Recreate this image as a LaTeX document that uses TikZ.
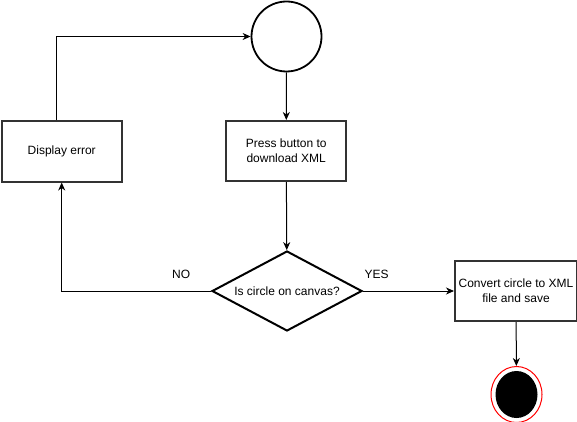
\documentclass[tikz,border=0pt]{standalone}
\usepackage{fontspec}
\setmainfont{Liberation Sans}
\usepackage{tikz}
\usetikzlibrary{arrows.meta,shapes.geometric}

\tikzset{
	box/.style={rectangle, draw=black!80, line width=2pt, minimum width=120pt, minimum height=60pt, align=center, font=\fontsize{12}{15}\selectfont},
	link/.style={-{Stealth[length=8pt, width=7pt, inset=2.5pt]}, line width=1pt},
	choice/.style={diamond, draw, line width=2pt, aspect=1.875, inner sep=0pt, minimum width=150pt, minimum height=80pt, font=\fontsize{12}{15}\selectfont},
	tag/.style={font=\fontsize{12}{15}\selectfont, above=9pt}
}

\begin{document}
\begin{tikzpicture}[x=1pt, y=-1pt]
		\useasboundingbox (0,0) rectangle (577,422);

		% nodes
		\node[circle, draw, line width=1.8pt, minimum size=70pt, inner sep=0pt] (start) at (286.5,36.5) {};
		\node[box] (press) at (286.2,151) {Press button to\\download XML};
		\node[box] (error) at (61.7,151.5) {Display error};
		\node[choice] (check) at (287,291) {Is circle on canvas?};
		\node[box, minimum width=122pt] (convert) at (516,291) {Convert circle to XML\\file and save};
		\node[ellipse, draw=red, fill=white, line width=1pt, minimum width=51pt, minimum height=56pt, inner sep=0pt] (stop) at (516.5,394.5) {};
		\node[ellipse, fill=black, minimum width=42pt, minimum height=47pt, inner sep=0pt] (stopdot) at (stop.center) {};

		% connectors
		\draw[link] (start) -- (press);
		\draw[link] (press) -- (check);
		\draw[link] (check.east) -- node[tag, pos=0.15] (yes) {YES} (convert.west);
		\draw[link] (check.west) -| node[tag, pos=0.1] (no) {NO} (error.south);
		\draw[link] ([xshift=-5pt]error.north) |- (start.west);
		\draw[link] (convert) -- (stop);
	\end{tikzpicture}
\end{document}
